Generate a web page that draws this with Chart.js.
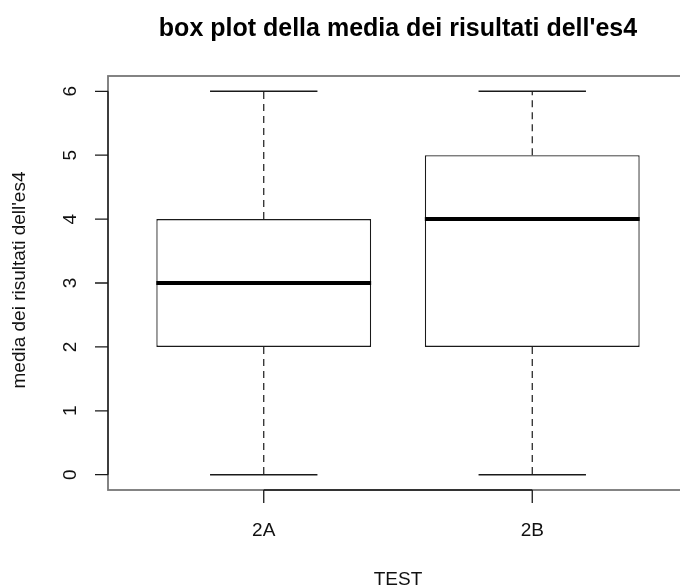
<!DOCTYPE html>
<html>
<head>
<meta charset="utf-8">
<script src="https://cdn.jsdelivr.net/npm/chart.js@4.4.1/dist/chart.umd.min.js"></script>
<style>
  html, body { margin: 0; padding: 0; background: #fff; overflow: hidden; }
  #wrap { position: absolute; left: 0; top: 0; width: 700px; height: 587px; }
</style>
</head>
<body>
<div id="wrap"><canvas id="c" width="700" height="587"></canvas></div>
<script>
// Five-number summaries of the es4 averages for each class
const categories = ['2A', '2B'];
const minVals    = [0, 0];
const q1Vals     = [2, 2];
const medianVals = [3, 4];
const q3Vals     = [4, 5];
const maxVals    = [6, 6];
const yTicks     = [0, 1, 2, 3, 4, 5, 6];

const titleText  = "box plot della media dei risultati dell'es4";
const xTitle     = 'TEST';
const yTitle     = "media dei risultati dell'es4";

const FONT = '"Liberation Sans", Arial, Helvetica, sans-serif';
const INK = '#1a1a1a';

// boxes as floating bars from Q1 to Q3
const boxData = categories.map((c, i) => ({ x: i + 1, y: [q1Vals[i], q3Vals[i]] }));

const boxplotDecor = {
  id: 'boxplotDecor',
  afterDatasetsDraw(chart) {
    const { ctx, scales: { x, y } } = chart;
    ctx.save();
    ctx.strokeStyle = INK;
    categories.forEach((c, i) => {
      const cx = x.getPixelForValue(i + 1);
      const capHalf = x.getPixelForValue(i + 1.2) - cx;
      const boxHalf = x.getPixelForValue(i + 1.4) - cx;
      // dashed whiskers
      ctx.lineWidth = 1.2;
      ctx.setLineDash([7, 5]);
      ctx.beginPath();
      ctx.moveTo(cx, y.getPixelForValue(q3Vals[i]));
      ctx.lineTo(cx, y.getPixelForValue(maxVals[i]));
      ctx.moveTo(cx, y.getPixelForValue(q1Vals[i]));
      ctx.lineTo(cx, y.getPixelForValue(minVals[i]));
      ctx.stroke();
      ctx.setLineDash([]);
      // whisker caps
      ctx.lineWidth = 1.5;
      ctx.beginPath();
      [maxVals[i], minVals[i]].forEach(v => {
        const py = y.getPixelForValue(v);
        ctx.moveTo(cx - capHalf, py);
        ctx.lineTo(cx + capHalf, py);
      });
      ctx.stroke();
      // median
      ctx.lineWidth = 4;
      ctx.strokeStyle = '#000';
      ctx.beginPath();
      const my = y.getPixelForValue(medianVals[i]);
      ctx.moveTo(cx - boxHalf, my);
      ctx.lineTo(cx + boxHalf, my);
      ctx.stroke();
      ctx.strokeStyle = INK;
    });
    ctx.restore();
  },
  afterDraw(chart) {
    const { ctx, chartArea: a, scales: { x, y } } = chart;
    ctx.save();
    // plot frame
    ctx.strokeStyle = '#777';
    ctx.lineWidth = 1.8;
    ctx.strokeRect(a.left, a.top, a.right - a.left, a.bottom - a.top);

    ctx.strokeStyle = INK;
    ctx.lineWidth = 1.3;
    // y axis
    const y0 = y.getPixelForValue(yTicks[0]);
    const y1 = y.getPixelForValue(yTicks[yTicks.length - 1]);
    ctx.beginPath();
    ctx.moveTo(a.left, y0); ctx.lineTo(a.left, y1);
    yTicks.forEach(t => {
      const py = y.getPixelForValue(t);
      ctx.moveTo(a.left - 13, py); ctx.lineTo(a.left, py);
    });
    // x axis
    const xa = x.getPixelForValue(1), xb = x.getPixelForValue(categories.length);
    ctx.moveTo(xa, a.bottom); ctx.lineTo(xb, a.bottom);
    categories.forEach((c, i) => {
      const px = x.getPixelForValue(i + 1);
      ctx.moveTo(px, a.bottom); ctx.lineTo(px, a.bottom + 13);
    });
    ctx.stroke();

    ctx.fillStyle = '#111';
    ctx.textAlign = 'center';
    ctx.textBaseline = 'middle';
    ctx.font = '19px ' + FONT;
    // y tick labels, rotated
    yTicks.forEach(t => {
      const py = y.getPixelForValue(t);
      ctx.save();
      ctx.translate(71, py);
      ctx.rotate(-Math.PI / 2);
      ctx.fillText(String(t), 0, 0);
      ctx.restore();
    });
    // x tick labels
    categories.forEach((c, i) => {
      ctx.fillText(c, x.getPixelForValue(i + 1), 531);
    });
    // axis titles
    ctx.fillText(xTitle, (a.left + a.right) / 2, 580);
    ctx.save();
    ctx.translate(20, 280);
    ctx.rotate(-Math.PI / 2);
    ctx.fillText(yTitle, 0, 0);
    ctx.restore();
    // main title
    ctx.font = 'bold 25px ' + FONT;
    ctx.fillStyle = '#000';
    ctx.fillText(titleText, (a.left + a.right) / 2, 29);
    ctx.restore();
  }
};

new Chart(document.getElementById('c'), {
  type: 'bar',
  data: {
    datasets: [{
      data: boxData,
      backgroundColor: '#fff',
      borderColor: INK,
      borderWidth: 1.3,
      borderSkipped: false,
      categoryPercentage: 1,
      barPercentage: 0.8
    }]
  },
  options: {
    responsive: false,
    animation: false,
    events: [],
    layout: { padding: { left: 108, top: 76, right: 12, bottom: 97 } },
    plugins: { legend: { display: false }, tooltip: { enabled: false }, title: { display: false } },
    scales: {
      x: {
        type: 'linear', min: 0.42, max: 2.58, offset: false, display: false,
        // one tick per group, so bar widths are measured against the group spacing
        afterBuildTicks: (scale) => { scale.ticks = categories.map((c, i) => ({ value: i + 1 })); }
      },
      y: { type: 'linear', min: -0.24, max: 6.24, display: false }
    }
  },
  plugins: [boxplotDecor]
});
</script>
</body>
</html>
